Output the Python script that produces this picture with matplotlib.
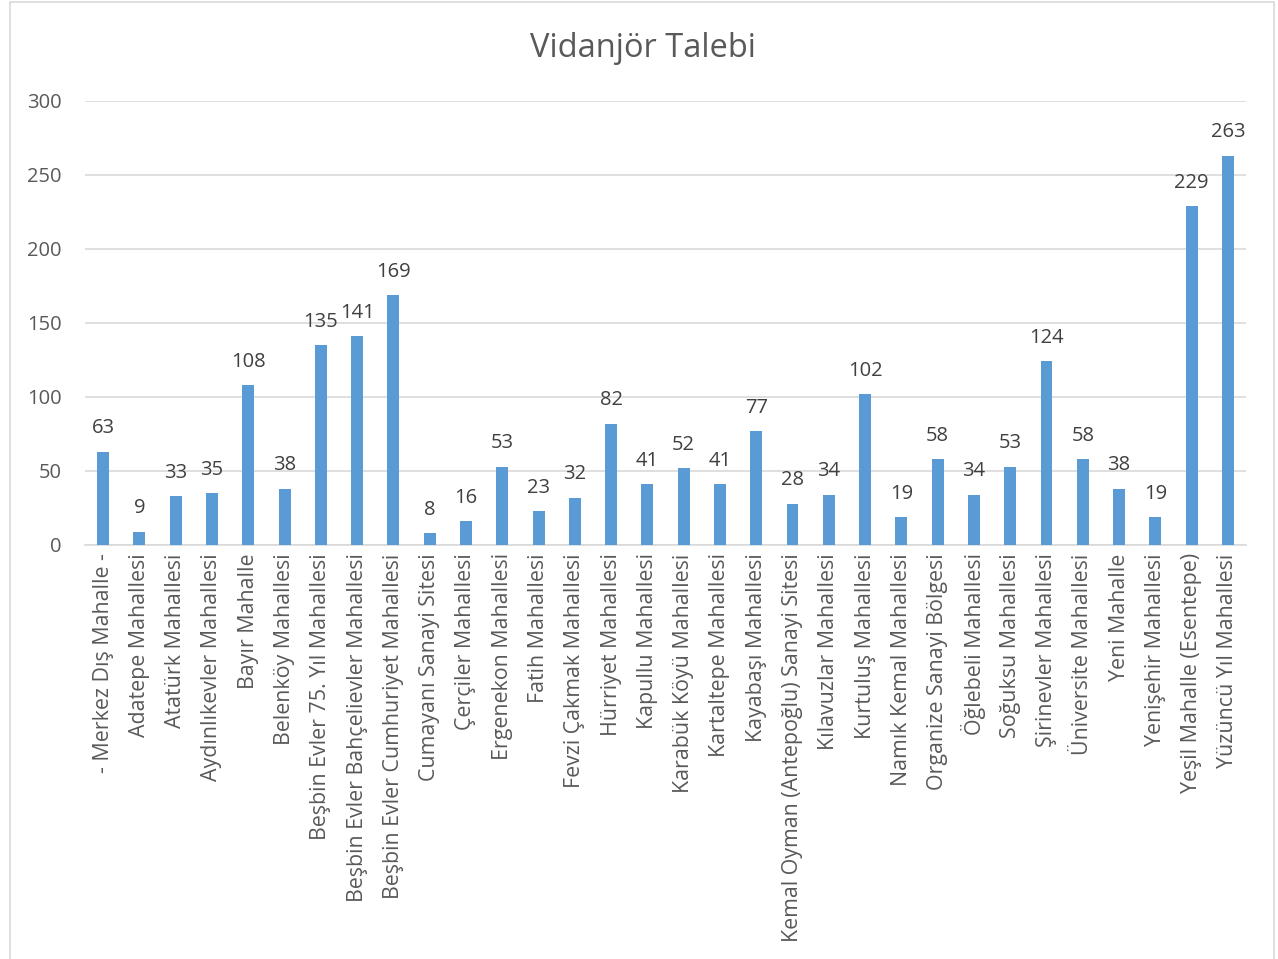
import matplotlib
matplotlib.use("Agg")
import matplotlib.pyplot as plt
from matplotlib.patches import Rectangle

plt.rcParams['font.family'] = ['Open Sans', 'DejaVu Sans']

mahalleler = [
    "- Merkez Dış Mahalle -", "Adatepe Mahallesi", "Atatürk Mahallesi",
    "Aydınlıkevler Mahallesi", "Bayır Mahalle", "Belenköy Mahallesi",
    "Beşbin Evler 75. Yıl Mahallesi", "Beşbin Evler Bahçelievler Mahallesi",
    "Beşbin Evler Cumhuriyet Mahallesi", "Cumayanı Sanayi Sitesi",
    "Çerçiler Mahallesi", "Ergenekon Mahallesi", "Fatih Mahallesi",
    "Fevzi Çakmak Mahallesi", "Hürriyet Mahallesi", "Kapullu Mahallesi",
    "Karabük Köyü Mahallesi", "Kartaltepe Mahallesi", "Kayabaşı Mahallesi",
    "Kemal Oyman (Antepoğlu) Sanayi Sitesi", "Kılavuzlar Mahallesi",
    "Kurtuluş Mahallesi", "Namık Kemal Mahallesi", "Organize Sanayi Bölgesi",
    "Öğlebeli Mahallesi", "Soğuksu Mahallesi", "Şirinevler Mahallesi",
    "Üniversite Mahallesi", "Yeni Mahalle", "Yenişehir Mahallesi",
    "Yeşil Mahalle (Esentepe)", "Yüzüncü Yıl Mahallesi",
]
talepler = [63, 9, 33, 35, 108, 38, 135, 141, 169, 8, 16, 53, 23, 32, 82, 41,
            52, 41, 77, 28, 34, 102, 19, 58, 34, 53, 124, 58, 38, 19, 229, 263]
y_ticks = [0, 50, 100, 150, 200, 250, 300]

text_color = '#595959'

fig = plt.figure(figsize=(12.78, 9.59), dpi=100)
ax = fig.add_axes([0.0665, 0.4317, 0.9085, 0.463])

x = list(range(len(mahalleler)))
bars = ax.bar(x, talepler, width=0.33, color='#5B9BD5', zorder=3)
for xi, v in zip(x, talepler):
    ax.text(xi, v + 9, str(v), ha='center', va='bottom', fontsize=14.5,
            color='#404040')

ax.set_xlim(-0.5, len(mahalleler) - 0.5)
ax.set_ylim(0, 300)
ax.set_yticks(y_ticks)
ax.set_xticks(x)
ax.set_xticklabels(mahalleler, rotation=90, fontsize=15.4, color=text_color)
ax.tick_params(axis='y', labelsize=14.5, labelcolor=text_color, length=0, pad=17)
ax.tick_params(axis='x', length=0, pad=6)
ax.grid(axis='y', color='#D9D9D9', linewidth=1.2, zorder=0)
for side in ['top', 'right', 'left']:
    ax.spines[side].set_visible(False)
ax.spines['bottom'].set_color('#D9D9D9')
ax.spines['bottom'].set_linewidth(1.2)

fig.text(0.503, 0.949, "Vidanjör Talebi", ha='center', va='center',
         fontsize=23.5, color=text_color)

fig.patches.append(Rectangle((10 / 1278, -0.01), 1264 / 1278, 0.008 + 1.0,
                             transform=fig.transFigure, fill=False,
                             edgecolor='#D9D9D9', linewidth=1.2))

fig.savefig('out.png', dpi=100, facecolor='white')
